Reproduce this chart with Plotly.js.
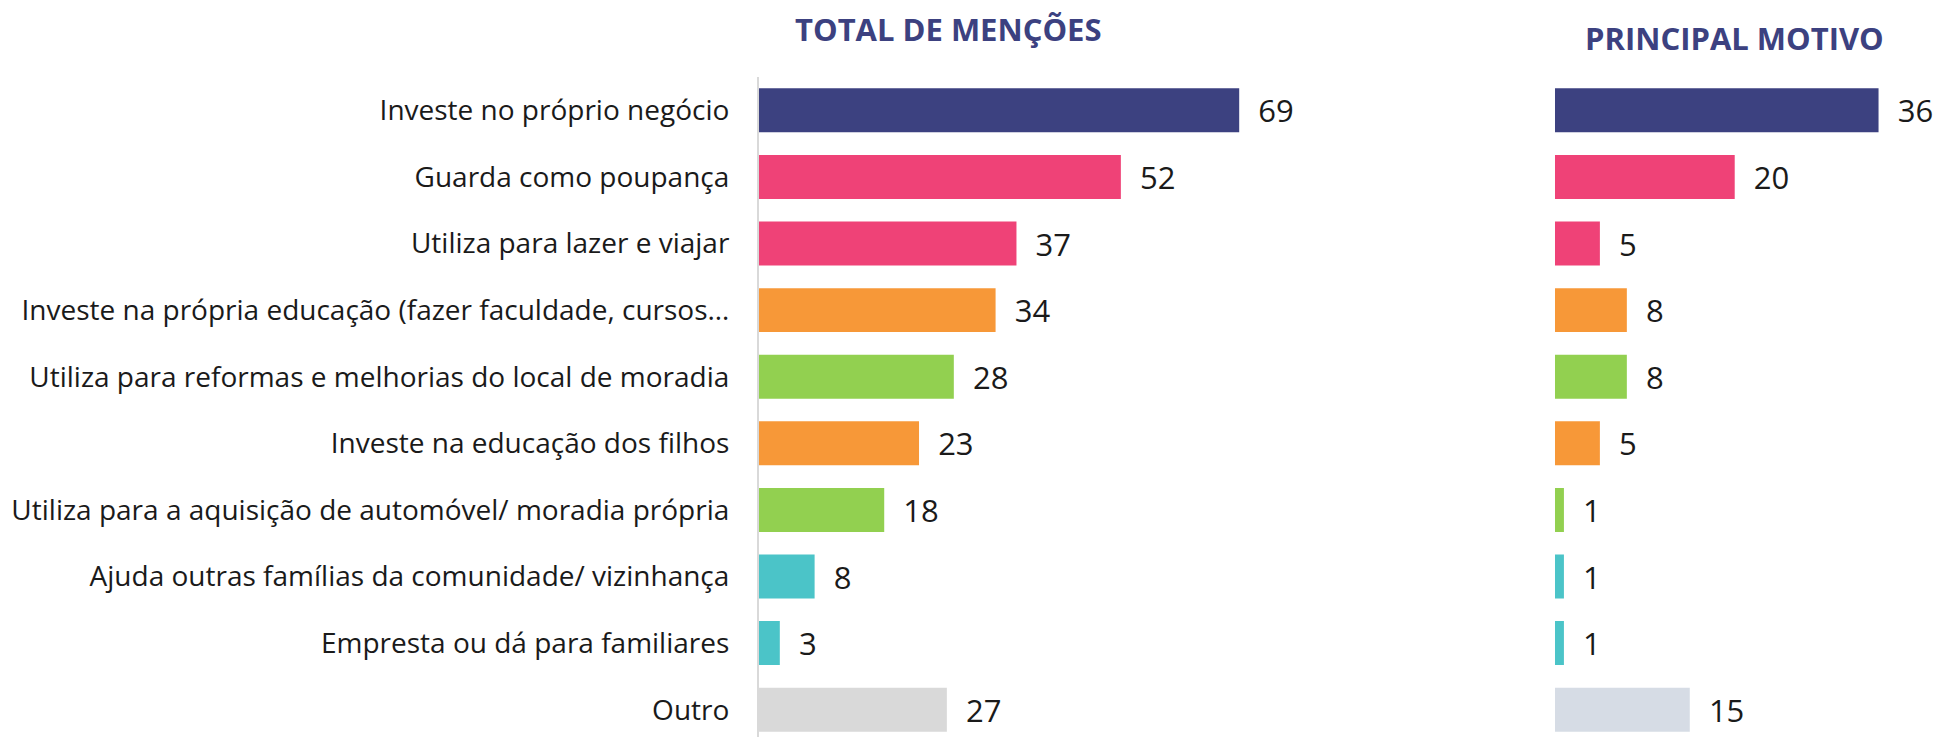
<!DOCTYPE html>
<html>
<head>
<meta charset="utf-8">
<script src="https://cdn.plot.ly/plotly-3.0.1.min.js"></script>
<style>html,body{margin:0;padding:0;background:#fff}#chart{width:1941px;height:737px}</style>
</head>
<body>
<div id="chart"></div>
<script>
const categories = [
  "Investe no próprio negócio",
  "Guarda como poupança",
  "Utiliza para lazer e viajar",
  "Investe na própria educação (fazer faculdade, cursos…",
  "Utiliza para reformas e melhorias do local de moradia",
  "Investe na educação dos filhos",
  "Utiliza para a aquisição de automóvel/ moradia própria",
  "Ajuda outras famílias da comunidade/ vizinhança",
  "Empresta ou dá para familiares",
  "Outro"
];
const totalMencoes = [69, 52, 37, 34, 28, 23, 18, 8, 3, 27];
const principalMotivo = [36, 20, 5, 8, 8, 5, 1, 1, 1, 15];
const titleLeft = "TOTAL DE MENÇÕES";
const titleRight = "PRINCIPAL MOTIVO";

const NAVY = "#3C4180", PINK = "#EF4277", ORANGE = "#F79838", GREEN = "#92D050", TEAL = "#4BC4C8";
const colorsLeft = [NAVY, PINK, PINK, ORANGE, GREEN, ORANGE, GREEN, TEAL, TEAL, "#D9D9D9"];
const colorsRight = [NAVY, PINK, PINK, ORANGE, GREEN, ORANGE, GREEN, TEAL, TEAL, "#D6DCE5"];

const valFont = {family: "Open Sans, sans-serif", size: 31, color: "#1a1a1a"};

const traces = [
  {
    type: "bar", orientation: "h", x: totalMencoes, y: categories,
    xaxis: "x", yaxis: "y",
    marker: {color: colorsLeft},
    text: totalMencoes.map(v => "\u00a0\u00a0" + v), textposition: "outside",
    textfont: valFont, constraintext: "none", cliponaxis: false,
    hoverinfo: "skip", showlegend: false
  },
  {
    type: "bar", orientation: "h", x: principalMotivo, y: categories,
    xaxis: "x2", yaxis: "y",
    marker: {color: colorsRight},
    text: principalMotivo.map(v => "\u00a0\u00a0" + v), textposition: "outside",
    textfont: valFont, constraintext: "none", cliponaxis: false,
    hoverinfo: "skip", showlegend: false
  }
];

const layout = {
  width: 1941, height: 737,
  margin: {l: 0, r: 0, t: 0, b: 0},
  paper_bgcolor: "#fff", plot_bgcolor: "rgba(0,0,0,0)",
  bargap: 0.34,
  xaxis: {domain: [0.391, 0.7496], range: [0, 100], visible: false, fixedrange: true},
  xaxis2: {domain: [0.8011, 0.997], range: [0, 42.3], visible: false, anchor: "y", fixedrange: true},
  yaxis: {
    domain: [0, 0.8955], type: "category", range: [9.41, -0.5],
    showline: true, linecolor: "#D9D9D9", linewidth: 2,
    showgrid: false, zeroline: false, ticks: "",
    ticklabelstandoff: 22,
    tickfont: {family: "Open Sans, sans-serif", size: 28, color: "#1a1a1a"},
    fixedrange: true
  },
  annotations: [
    {text: "<b>" + titleLeft + "</b>", xref: "paper", yref: "paper", x: 0.4885, y: 0.9606,
     xanchor: "center", yanchor: "middle", showarrow: false,
     font: {family: "Open Sans, sans-serif", size: 31, color: NAVY}},
    {text: "<b>" + titleRight + "</b>", xref: "paper", yref: "paper", x: 0.8934, y: 0.9484,
     xanchor: "center", yanchor: "middle", showarrow: false,
     font: {family: "Open Sans, sans-serif", size: 31, color: NAVY}}
  ]
};

Plotly.newPlot("chart", traces, layout, {displayModeBar: false, staticPlot: true});
</script>
</body>
</html>
